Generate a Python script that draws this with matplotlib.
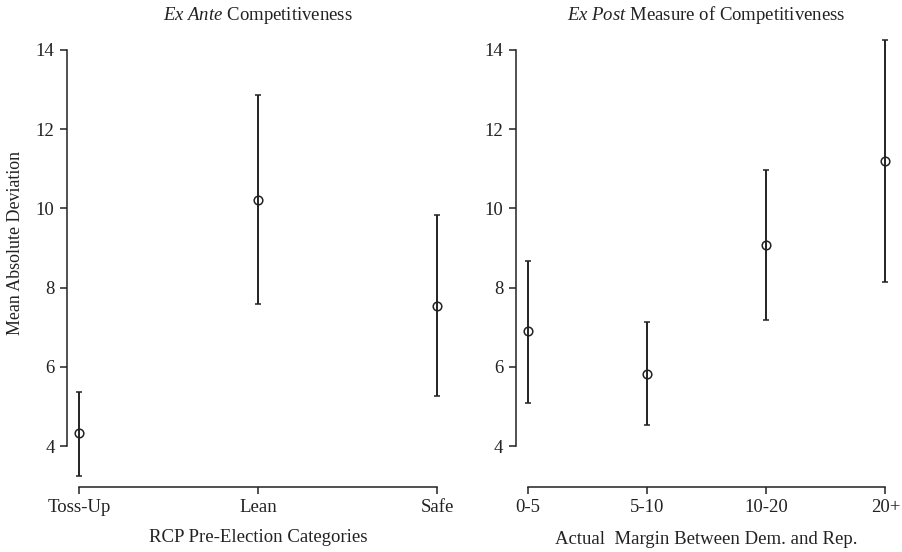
import matplotlib
matplotlib.use("Agg")
import matplotlib.pyplot as plt

plt.rcParams['font.family'] = ['Liberation Serif', 'DejaVu Serif']
plt.rcParams['mathtext.fontset'] = 'custom'
plt.rcParams['mathtext.rm'] = 'Liberation Serif'
plt.rcParams['mathtext.it'] = 'Liberation Serif:italic'

ink = '#222222'

# ex ante: RCP categories
ante_labels = ['Toss-Up', 'Lean', 'Safe']
ante_mean = [4.32, 10.22, 7.54]
ante_low = [3.25, 7.59, 5.25]
ante_high = [5.36, 12.85, 9.82]

# ex post: actual margin
post_labels = ['0-5', '5-10', '10-20', '20+']
post_mean = [6.90, 5.81, 9.08, 11.20]
post_low = [5.09, 4.52, 7.17, 8.15]
post_high = [8.67, 7.12, 10.96, 14.26]

yticks = [4, 6, 8, 10, 12, 14]

W, H = 902, 552
fs = 13.5
fig = plt.figure(figsize=(W / 100, H / 100), dpi=100)

def px_axes(x0, x1, y0, y1):
    # pixel box -> figure fraction (y measured from top)
    return fig.add_axes([x0 / W, 1 - y1 / H, (x1 - x0) / W, (y1 - y0) / H])

def panel(ax, labels, mean, low, high, xlo, xhi):
    n = len(labels)
    xs = list(range(1, n + 1))
    err = [[m - l for m, l in zip(mean, low)], [h - m for m, h in zip(mean, high)]]
    ax.errorbar(xs, mean, yerr=err, fmt='o', ms=6.2, mfc='none', mec=ink,
                mew=1.1, color=ink, elinewidth=1.4, capsize=2.2, capthick=1.4,
                clip_on=False, zorder=3)
    ax.set_xlim(xlo, xhi)
    ax.set_ylim(2.965, 14.3)
    for s in ['top', 'right']:
        ax.spines[s].set_visible(False)
    ax.spines['left'].set_bounds(4, 14)
    ax.spines['bottom'].set_bounds(1, n)
    for s in ['left', 'bottom']:
        ax.spines[s].set_color(ink)
        ax.spines[s].set_linewidth(1.1)
    ax.set_xticks(xs)
    ax.set_xticklabels(labels)
    ax.set_yticks(yticks)
    ax.tick_params(colors=ink, labelcolor=ink, labelsize=fs, length=5,
                   width=1.1, pad=4)
    ax.patch.set_alpha(0)

ax1 = px_axes(67, 449, 38, 487)
panel(ax1, ante_labels, ante_mean, ante_low, ante_high, 0.933, 3.067)
ax2 = px_axes(516, 897, 38, 487)
panel(ax2, post_labels, post_mean, post_low, post_high, 0.903, 4.097)

fig.text(258 / W, 1 - 15 / H, r'$\it{Ex\ Ante}$ Competitiveness', ha='center',
         va='center', fontsize=fs, color=ink)
fig.text(706 / W, 1 - 15 / H, r'$\it{Ex\ Post}$ Measure of Competitiveness',
         ha='center', va='center', fontsize=fs, color=ink)
fig.text(258 / W, 1 - 538 / H, 'RCP Pre-Election Categories', ha='center',
         va='center', fontsize=fs, color=ink)
fig.text(706 / W, 1 - 539 / H, 'Actual  Margin Between Dem. and Rep.',
         ha='center', va='center', fontsize=fs, color=ink)
fig.text(16 / W, 1 - 243 / H, 'Mean Absolute Deviation', rotation=90,
         ha='center', va='center', fontsize=12.9, color=ink)

fig.savefig('out.png', dpi=100)
